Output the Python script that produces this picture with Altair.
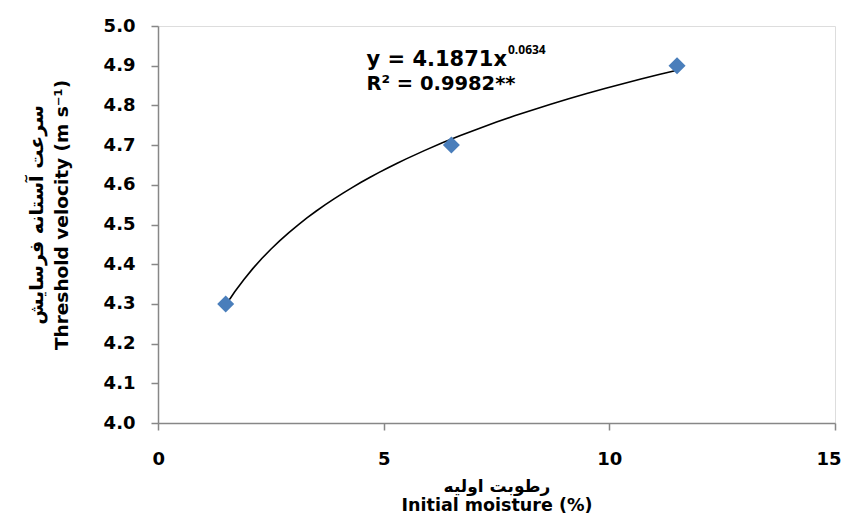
import altair as alt
import pandas as pd

# ---- data ----
moisture = [1.5, 6.5, 11.5]
velocity = [4.3, 4.7, 4.9]
x_ticks = [0, 5, 10, 15]
y_ticks = [4.0, 4.1, 4.2, 4.3, 4.4, 4.5, 4.6, 4.7, 4.8, 4.9, 5.0]

eq_main = ["y = 4.1871x"]
eq_exp = ["0.0634"]
r2_text = ["R² = 0.9982**"]
x_title_en = ["Initial moisture (%)"]
x_title_fa = ["رطوبت اولیه"]
y_title_en = ["Threshold velocity (m s⁻¹)"]
y_title_fa = ["سرعت آستانه فرسایش"]

FONT = "DejaVu Sans"
AXIS_GREY = "#878787"

df = pd.DataFrame({"moisture": moisture, "velocity": velocity})

x_enc = alt.X(
    "moisture:Q",
    scale=alt.Scale(domain=[0, 15], nice=False),
    axis=alt.Axis(
        values=x_ticks, title=None, grid=False, labelFlush=True, labelFlushOffset=6,
        labelFontSize=18, labelFontWeight="bold", labelColor="black", labelFont=FONT,
        labelPadding=20, tickSize=7, tickColor=AXIS_GREY, domainColor=AXIS_GREY,
        domainWidth=1.5, tickWidth=1.5,
    ),
)
y_enc = alt.Y(
    "velocity:Q",
    scale=alt.Scale(domain=[4.0, 5.0], nice=False, zero=False),
    axis=alt.Axis(
        values=y_ticks, format=".1f", title=None, grid=False, labelFlush=False,
        labelFontSize=18, labelFontWeight="bold", labelColor="black", labelFont=FONT,
        labelPadding=16, tickSize=7, tickColor=AXIS_GREY, domainColor=AXIS_GREY,
        domainWidth=1.5, tickWidth=1.5,
    ),
)

base = alt.Chart(df)

trend = base.transform_regression(
    "moisture", "velocity", method="pow", extent=[1.5, 11.5]
).mark_line(color="black", strokeWidth=1.6).encode(x=x_enc, y=y_enc)

points = base.mark_point(
    shape="diamond", filled=True, size=290, color="#4A7EBB", opacity=1
).encode(x=x_enc, y=y_enc)


def label(texts, px, py, size, weight="bold", align="center", baseline="alphabetic",
          angle=0, font=FONT):
    return alt.Chart(pd.DataFrame({"t": texts})).mark_text(
        font=font, fontSize=size, fontWeight=weight, align=align,
        baseline=baseline, angle=angle, color="black",
    ).encode(x=alt.value(px), y=alt.value(py), text="t:N")


eq1 = label(eq_main, 349, 40, 21, align="right")
eq1_sup = label(eq_exp, 350, 28, 12, align="left", font="Open Sans")
eq2 = label(r2_text, 283, 64, 19.5)
xfa = label(x_title_fa, 339, 461, 17, baseline="middle")
xen = label(x_title_en, 339, 480, 17.5, baseline="middle")
yfa = label(y_title_fa, -121, 189, 19, baseline="middle", angle=270)
yen = label(y_title_en, -96, 189, 18.5, baseline="middle", angle=270)

chart = alt.layer(trend, points, eq1, eq1_sup, eq2, xfa, xen, yfa, yen).properties(
    width=677, height=397,
    padding={"left": 150, "top": 18, "right": 6, "bottom": 93},
    autosize=alt.AutoSizeParams(type="none"),
).configure_view(stroke=None).configure(background="white")

chart.save("out.html", embed_options={"renderer": "svg", "actions": False})
